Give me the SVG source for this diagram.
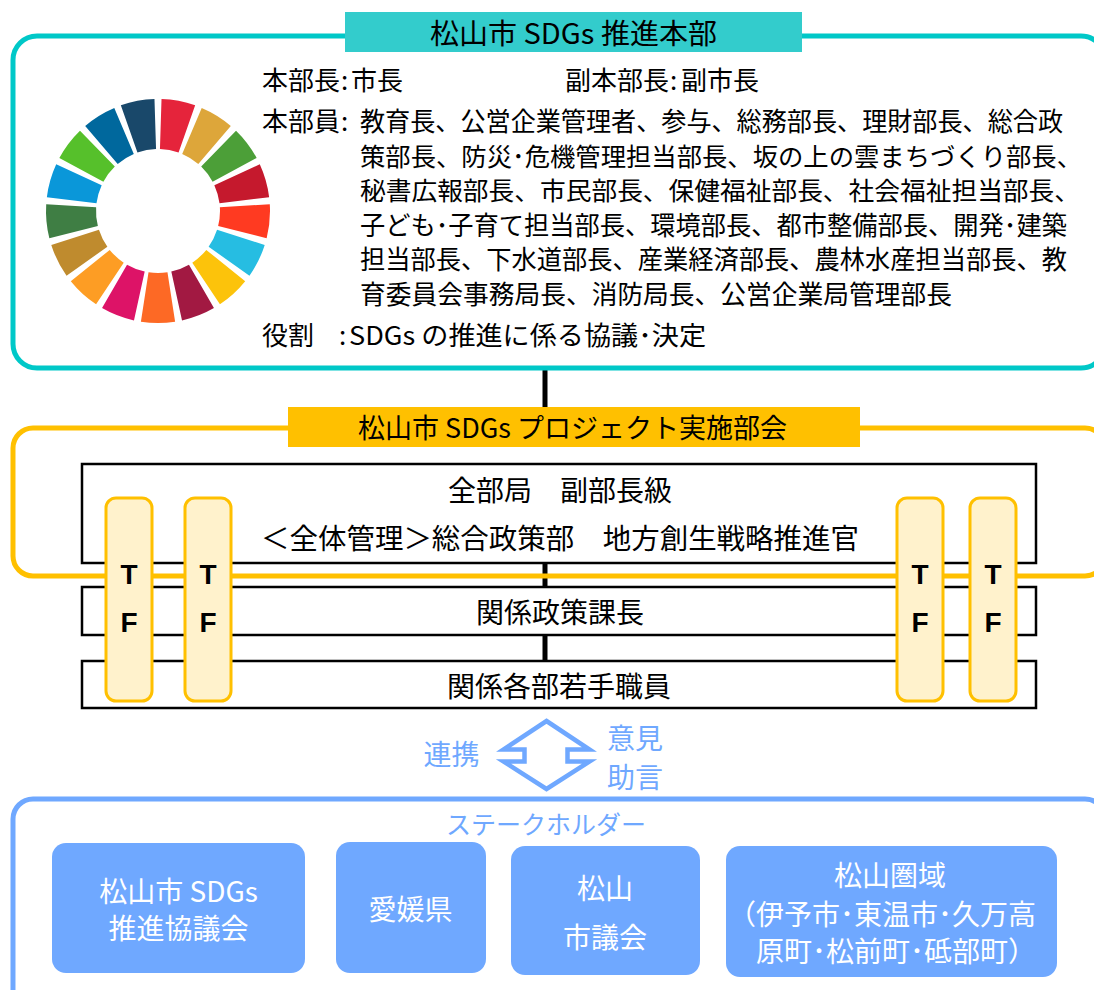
<svg xmlns="http://www.w3.org/2000/svg" width="1094" height="990" viewBox="0 0 1094 990">
<defs>
<style>
.t{font-family:"Noto Sans CJK JP","Noto Sans",sans-serif;fill:#000;}
.body{font-size:26px;}
.box{font-size:28px;text-anchor:middle;}
.blue{fill:#6FA8FF;}
.white{fill:#fff;}
.tf{fill:#FFF2CC;stroke:#FFC000;stroke-width:3;}
.tft{font-family:"Liberation Sans",Arial,sans-serif;font-weight:bold;font-size:28px;text-anchor:middle;fill:#000;}
.bbox{fill:#fff;stroke:#000;stroke-width:2.5;}
.sh{fill:#6FA8FF;}
.conn{stroke:#000;stroke-width:5;fill:none;}
</style>
<path id="seg" d="M -9.47 -61.27 L -17.11 -110.69 A 112 112 0 0 1 17.11 -110.69 L 9.47 -61.27 A 62 62 0 0 0 -9.47 -61.27 Z"/>
</defs>
<rect width="1094" height="990" fill="#fff"/>

<g id="connectors">
<line class="conn" x1="545" y1="368" x2="545" y2="408"/>
<line class="conn" x1="545" y1="563" x2="545" y2="588"/>
<line class="conn" x1="545" y1="635" x2="545" y2="662"/>
</g>

<g id="honbu">
<rect x="13" y="36" width="1092" height="332" rx="24" fill="none" stroke="#00C8C8" stroke-width="5"/>
<rect x="345" y="12" width="457" height="40" fill="#33CCCC"/>
<text class="t" x="573.5" y="43.5" font-size="28" text-anchor="middle" textLength="287" lengthAdjust="spacingAndGlyphs">松山市 SDGs 推進本部</text>
<text class="t body" y="90"><tspan x="262">本部長</tspan><tspan x="341">:</tspan><tspan x="351">市長</tspan><tspan x="565">副本部長</tspan><tspan x="670">:</tspan><tspan x="681">副市長</tspan></text>
<text class="t body" y="131"><tspan x="262">本部員</tspan><tspan x="341">:</tspan></text>
<text class="t body" x="360" y="131" textLength="703" lengthAdjust="spacingAndGlyphs">教育長、公営企業管理者、参与、総務部長、理財部長、総合政</text>
<text class="t" font-size="25.5" x="360" y="166" textLength="722" lengthAdjust="spacingAndGlyphs">策部長、防災･危機管理担当部長、坂の上の雲まちづくり部長、</text>
<text class="t" font-size="25.5" x="360" y="200" textLength="720" lengthAdjust="spacingAndGlyphs">秘書広報部長、市民部長、保健福祉部長、社会福祉担当部長、</text>
<text class="t body" x="360" y="235" textLength="707" lengthAdjust="spacingAndGlyphs">子ども･子育て担当部長、環境部長、都市整備部長、開発･建築</text>
<text class="t body" x="360" y="269" textLength="707" lengthAdjust="spacingAndGlyphs">担当部長、下水道部長、産業経済部長、農林水産担当部長、教</text>
<text class="t body" x="360" y="304" textLength="592" lengthAdjust="spacingAndGlyphs">育委員会事務局長、消防局長、公営企業局管理部長</text>
<text class="t body" y="345"><tspan x="262">役割</tspan><tspan x="339">:</tspan></text>
<text class="t body" x="349" y="345" textLength="357" lengthAdjust="spacingAndGlyphs">SDGs の推進に係る協議･決定</text>
<g id="sdg-wheel">
<use href="#seg" fill="#E5243B" transform="translate(158 211) rotate(10.59)"/>
<use href="#seg" fill="#DDA63A" transform="translate(158 211) rotate(31.76)"/>
<use href="#seg" fill="#4C9F38" transform="translate(158 211) rotate(52.94)"/>
<use href="#seg" fill="#C5192D" transform="translate(158 211) rotate(74.12)"/>
<use href="#seg" fill="#FF3A21" transform="translate(158 211) rotate(95.29)"/>
<use href="#seg" fill="#26BDE2" transform="translate(158 211) rotate(116.47)"/>
<use href="#seg" fill="#FCC30B" transform="translate(158 211) rotate(137.65)"/>
<use href="#seg" fill="#A21942" transform="translate(158 211) rotate(158.82)"/>
<use href="#seg" fill="#FD6925" transform="translate(158 211) rotate(180)"/>
<use href="#seg" fill="#DD1367" transform="translate(158 211) rotate(201.18)"/>
<use href="#seg" fill="#FD9D24" transform="translate(158 211) rotate(222.35)"/>
<use href="#seg" fill="#BF8B2E" transform="translate(158 211) rotate(243.53)"/>
<use href="#seg" fill="#3F7E44" transform="translate(158 211) rotate(264.71)"/>
<use href="#seg" fill="#0A97D9" transform="translate(158 211) rotate(285.88)"/>
<use href="#seg" fill="#56C02B" transform="translate(158 211) rotate(307.06)"/>
<use href="#seg" fill="#00689D" transform="translate(158 211) rotate(328.24)"/>
<use href="#seg" fill="#19486A" transform="translate(158 211) rotate(349.41)"/>
</g>
</g>

<g id="bukai-frame">
<rect x="13" y="428" width="1092" height="148" rx="20" fill="none" stroke="#FFC000" stroke-width="5"/>
<rect x="288" y="407" width="572" height="40" fill="#FFC000"/>
<text class="t" x="572.5" y="438" font-size="27" text-anchor="middle" textLength="429" lengthAdjust="spacingAndGlyphs">松山市 SDGs プロジェクト実施部会</text>
</g>

<g id="zenbukyoku">
<rect class="bbox" x="82" y="464" width="954" height="99"/>
<text class="t box" x="560" y="500.5">全部局　副部長級</text>
<text class="t box" x="560" y="548.5" textLength="598" lengthAdjust="spacingAndGlyphs">＜全体管理＞総合政策部　地方創生戦略推進官</text>
</g>
<g id="kankei-kacho">
<rect class="bbox" x="82" y="587" width="954" height="48"/>
<text class="t box" x="560" y="622.5">関係政策課長</text>
</g>
<g id="wakate">
<rect class="bbox" x="82" y="661" width="954" height="47"/>
<text class="t box" x="559" y="696.5">関係各部若手職員</text>
</g>

<g id="tf1"><rect class="tf" x="106" y="498" width="46" height="203" rx="10"/><text class="tft" x="129" y="584">T</text><text class="tft" x="129" y="632">F</text></g>
<g id="tf2"><rect class="tf" x="185" y="498" width="46" height="203" rx="10"/><text class="tft" x="208" y="584">T</text><text class="tft" x="208" y="632">F</text></g>
<g id="tf3"><rect class="tf" x="897" y="498" width="46" height="203" rx="10"/><text class="tft" x="920" y="584">T</text><text class="tft" x="920" y="632">F</text></g>
<g id="tf4"><rect class="tf" x="970" y="498" width="46" height="203" rx="10"/><text class="tft" x="993" y="584">T</text><text class="tft" x="993" y="632">F</text></g>

<g id="renkei-arrow">
<polygon points="546.5,721 589.5,749.5 567.5,749.5 567.5,761.5 589.5,761.5 546.5,789 503.5,761.5 524.5,761.5 524.5,749.5 503.5,749.5" fill="#fff" stroke="#6FA8FF" stroke-width="4.5"/>
<text class="t blue" x="451.5" y="764.5" font-size="28" text-anchor="middle">連携</text>
<text class="t blue" x="635" y="748.5" font-size="28" text-anchor="middle">意見</text>
<text class="t blue" x="635" y="787.5" font-size="28" text-anchor="middle">助言</text>
</g>

<g id="stakeholders">
<rect x="13" y="799" width="1092" height="230" rx="20" fill="none" stroke="#6FA8FF" stroke-width="5"/>
<text class="t blue" x="546" y="833.5" font-size="25" text-anchor="middle">ステークホルダー</text>
</g>
<g id="sh-kyogikai">
<rect class="sh" x="52" y="843" width="253" height="130" rx="14"/>
<text class="t box white" x="178.5" y="901.5">松山市 SDGs</text>
<text class="t box white" x="178.5" y="938.5">推進協議会</text>
</g>
<g id="sh-ehime">
<rect class="sh" x="336" y="842" width="150" height="131" rx="14"/>
<text class="t box white" x="410.5" y="919.5">愛媛県</text>
</g>
<g id="sh-gikai">
<rect class="sh" x="511" y="846" width="189" height="129" rx="14"/>
<text class="t box white" x="605" y="898.5">松山</text>
<text class="t box white" x="605" y="947.5">市議会</text>
</g>
<g id="sh-ken">
<rect class="sh" x="726" y="846" width="331" height="131" rx="14"/>
<text class="t box white" x="890" y="885.5">松山圏域</text>
<text class="t box white" x="882" y="924.5">（伊予市･東温市･久万高</text>
<text class="t box white" x="896" y="961.5">原町･松前町･砥部町）</text>
</g>
</svg>
